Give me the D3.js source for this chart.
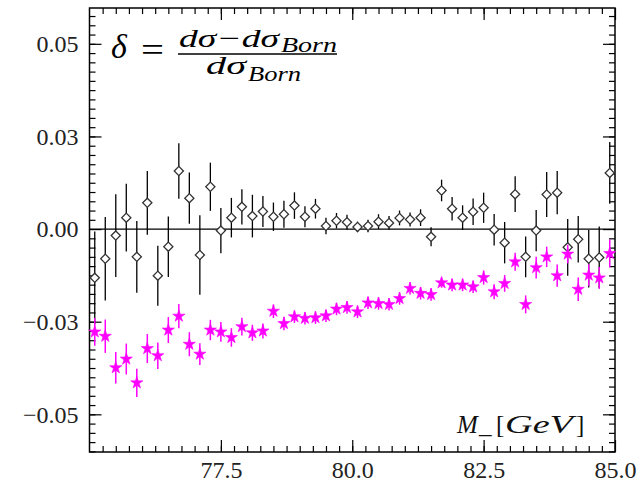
<!DOCTYPE html>
<html>
<head>
<meta charset="utf-8">
<script src="https://cdn.jsdelivr.net/npm/d3@7"></script>
<style>
  body { margin: 0; background: #fff; }
  svg text { font-family: "Liberation Serif", "DejaVu Serif", serif !important; }
</style>
</head>
<body>
<script>
// bin centres (GeV)
const mass = [75.1, 75.3, 75.5, 75.7, 75.9, 76.1, 76.3, 76.5, 76.7, 76.9,
  77.1, 77.3, 77.5, 77.7, 77.9, 78.1, 78.3, 78.5, 78.7, 78.9,
  79.1, 79.3, 79.5, 79.7, 79.9, 80.1, 80.3, 80.5, 80.7, 80.9,
  81.1, 81.3, 81.5, 81.7, 81.9, 82.1, 82.3, 82.5, 82.7, 82.9,
  83.1, 83.3, 83.5, 83.7, 83.9, 84.1, 84.3, 84.5, 84.7, 84.9]

// black diamonds
const deltaA = [-0.0158, -0.0096, -0.0021, 0.0037, -0.0090, 0.0085, -0.0151, -0.0057, 0.0188, 0.0100,
  -0.0084, 0.0137, -0.0005, 0.0037, 0.0072, 0.0042, 0.0057, 0.0040, 0.0048, 0.0076,
  0.0040, 0.0066, 0.0010, 0.0027, 0.0022, 0.0007, 0.0010, 0.0024, 0.0020, 0.0036,
  0.0031, 0.0037, -0.0025, 0.0125, 0.0066, 0.0037, 0.0056, 0.0069, -0.0002, -0.0044,
  0.0113, -0.0090, -0.0005, 0.0112, 0.0118, -0.0059, -0.0033, -0.0096, -0.0092, 0.0182]
const errA = [0.0150, 0.0135, 0.0134, 0.0110, 0.0116, 0.0103, 0.0097, 0.0098, 0.0090, 0.0083,
  0.0129, 0.0078, 0.0073, 0.0064, 0.0057, 0.0069, 0.0050, 0.0046, 0.0044, 0.0043,
  0.0034, 0.0032, 0.0027, 0.0025, 0.0024, 0.0017, 0.0020, 0.0024, 0.0022, 0.0024,
  0.0023, 0.0027, 0.0031, 0.0035, 0.0038, 0.0040, 0.0043, 0.0049, 0.0051, 0.0067,
  0.0058, 0.0066, 0.0067, 0.0073, 0.0070, 0.0092, 0.0075, 0.0093, 0.0100, 0.0100]

// magenta stars
const deltaB = [-0.0333, -0.0347, -0.0449, -0.0421, -0.0498, -0.0387, -0.0410, -0.0327, -0.0282, -0.0373,
  -0.0405, -0.0327, -0.0333, -0.0351, -0.0316, -0.0336, -0.0330, -0.0266, -0.0306, -0.0284,
  -0.0289, -0.0287, -0.0281, -0.0259, -0.0254, -0.0268, -0.0239, -0.0241, -0.0244, -0.0225,
  -0.0192, -0.0208, -0.0212, -0.0174, -0.0181, -0.0181, -0.0187, -0.0157, -0.0203, -0.0176,
  -0.0106, -0.0244, -0.0125, -0.0090, -0.0151, -0.0081, -0.0195, -0.0149, -0.0158, -0.0079]
const errB = [0.0045, 0.0054, 0.0051, 0.0050, 0.0046, 0.0047, 0.0043, 0.0042, 0.0039, 0.0039,
  0.0035, 0.0033, 0.0032, 0.0030, 0.0029, 0.0026, 0.0024, 0.0022, 0.0022, 0.0020,
  0.0020, 0.0020, 0.0020, 0.0020, 0.0020, 0.0020, 0.0020, 0.0020, 0.0020, 0.0020,
  0.0020, 0.0020, 0.0020, 0.0016, 0.0020, 0.0020, 0.0020, 0.0023, 0.0024, 0.0027,
  0.0029, 0.0029, 0.0035, 0.0033, 0.0036, 0.0030, 0.0038, 0.0035, 0.0035, 0.0045]

const xTicks = [77.5, 80.0, 82.5, 85.0]
const yTicks = [0.06, 0.03, 0.0, -0.03, -0.06]
const yTickLabels = ['0.05', '0.03', '0.00', '\u22120.03', '\u22120.05']

const W = 639, H = 483
const margin = {left: 89.5, right: 615, top: 8, bottom: 452}

const svg = d3.select('body').append('svg')
  .attr('width', W).attr('height', H)

const x = d3.scaleLinear().domain([75, 85]).range([margin.left, margin.right])
const y = d3.scaleLinear().domain([-0.0722, 0.0716]).range([margin.bottom, margin.top])

const g_axes = svg.append('g')

// minor ticks
const xMinor = d3.range(75.25, 85, 0.25)
const yMinor = d3.range(-0.072, 0.0716, 0.003).filter(v => Math.abs(v) > 1e-9)

g_axes.append('g').attr('transform', `translate(0,${margin.bottom})`)
  .call(d3.axisBottom(x).tickValues(xMinor).tickSize(-6).tickFormat(''))
g_axes.append('g').attr('transform', `translate(0,${margin.top})`)
  .call(d3.axisTop(x).tickValues(xMinor).tickSize(-6).tickFormat(''))
g_axes.append('g').attr('transform', `translate(${margin.left},0)`)
  .call(d3.axisLeft(y).tickValues(yMinor).tickSize(-6).tickFormat(''))
g_axes.append('g').attr('transform', `translate(${margin.right},0)`)
  .call(d3.axisRight(y).tickValues(yMinor).tickSize(-6).tickFormat(''))

// major ticks
g_axes.append('g').attr('class', 'x axis').attr('transform', `translate(0,${margin.bottom})`)
  .call(d3.axisBottom(x).tickValues(xTicks).tickSize(-12).tickPadding(9).tickFormat(d3.format('.1f')))
g_axes.append('g').attr('transform', `translate(0,${margin.top})`)
  .call(d3.axisTop(x).tickValues(xTicks).tickSize(-12).tickFormat(''))
g_axes.append('g').attr('class', 'y axis').attr('transform', `translate(${margin.left},0)`)
  .call(d3.axisLeft(y).tickValues(yTicks).tickSize(-12).tickPadding(11)
    .tickFormat((d, i) => yTickLabels[i]))
g_axes.append('g').attr('transform', `translate(${margin.right},0)`)
  .call(d3.axisRight(y).tickValues(yTicks).tickSize(-12).tickFormat(''))

g_axes.selectAll('.domain').remove()
g_axes.selectAll('line').attr('stroke', '#000').attr('stroke-width', 1.2)
g_axes.selectAll('text').attr('font-size', 24).attr('fill', '#222')

// frame
svg.append('rect')
  .attr('x', margin.left).attr('y', margin.top)
  .attr('width', margin.right - margin.left).attr('height', margin.bottom - margin.top)
  .attr('fill', 'none').attr('stroke', '#000').attr('stroke-width', 1.5)

// zero line
svg.append('line')
  .attr('x1', margin.left).attr('x2', margin.right)
  .attr('y1', y(0)).attr('y2', y(0))
  .attr('stroke', '#000').attr('stroke-width', 1.3)

const setA = mass.map((m, i) => ({m, v: deltaA[i], e: errA[i]}))
const setB = mass.map((m, i) => ({m, v: deltaB[i], e: errB[i]}))

const plot = svg.append('g')

// black series
plot.append('g').selectAll('line').data(setA).join('line')
  .attr('x1', d => x(d.m)).attr('x2', d => x(d.m))
  .attr('y1', d => y(d.v + d.e)).attr('y2', d => y(d.v - d.e))
  .attr('stroke', '#000').attr('stroke-width', 1.3)
plot.append('g').selectAll('path').data(setA).join('path')
  .attr('d', d3.symbol(d3.symbolSquare, 42)())
  .attr('transform', d => `translate(${x(d.m)},${y(d.v)}) rotate(45)`)
  .attr('fill', '#fff').attr('stroke', '#333').attr('stroke-width', 1.3)

// magenta series
plot.append('g').selectAll('line').data(setB).join('line')
  .attr('x1', d => x(d.m)).attr('x2', d => x(d.m))
  .attr('y1', d => y(d.v + d.e)).attr('y2', d => y(d.v - d.e))
  .attr('stroke', '#ff00ff').attr('stroke-width', 1.5)
plot.append('g').selectAll('path').data(setB).join('path')
  .attr('d', d3.symbol(d3.symbolStar, 46)())
  .attr('transform', d => `translate(${x(d.m)},${y(d.v)})`)
  .attr('fill', '#ff00ff').attr('stroke', '#ff00ff').attr('stroke-width', 0.6)

// formula
const f = svg.append('g').attr('fill', '#000')
f.append('text').attr('x', 111).attr('y', 58)
  .attr('font-size', 34).attr('font-style', 'italic').text('δ')
f.append('text').attr('x', 141).attr('y', 61)
  .attr('font-size', 34).attr('textLength', 23).attr('lengthAdjust', 'spacingAndGlyphs').text('=')
const num = f.append('text').attr('y', 47)
  .attr('font-size', 26).attr('font-style', 'italic')
num.append('tspan').attr('x', 179).attr('textLength', 100)
  .attr('lengthAdjust', 'spacingAndGlyphs').text('dσ\u2212dσ')
num.append('tspan').attr('x', 281).attr('dy', 5).attr('font-size', 22)
  .attr('textLength', 56).attr('lengthAdjust', 'spacingAndGlyphs').text('Born')
f.append('line').attr('x1', 178).attr('x2', 337).attr('y1', 54).attr('y2', 54)
  .attr('stroke', '#000').attr('stroke-width', 1.5)
const den = f.append('text').attr('y', 74)
  .attr('font-size', 26).attr('font-style', 'italic')
den.append('tspan').attr('x', 206).attr('textLength', 40)
  .attr('lengthAdjust', 'spacingAndGlyphs').text('dσ')
den.append('tspan').attr('x', 248).attr('dy', 7).attr('font-size', 22)
  .attr('textLength', 53).attr('lengthAdjust', 'spacingAndGlyphs').text('Born')

// axis title
const xt = svg.append('text').attr('y', 433)
  .attr('font-size', 25).attr('fill', '#111')
xt.append('tspan').attr('x', 457).attr('font-style', 'italic').text('M')
xt.append('tspan').attr('x', 479).text('_')
xt.append('tspan').attr('x', 496).text('[')
xt.append('tspan').attr('x', 505).attr('font-style', 'italic').attr('textLength', 68)
  .attr('lengthAdjust', 'spacingAndGlyphs').text('GeV')
xt.append('tspan').attr('x', 576).text(']')
</script>
</body>
</html>
